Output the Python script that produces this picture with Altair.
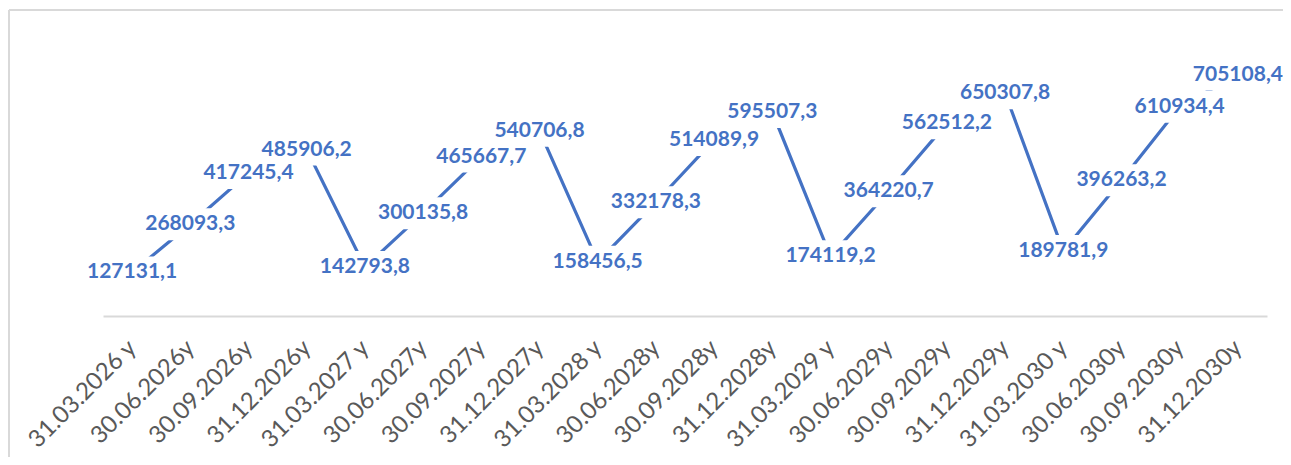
import altair as alt
import pandas as pd

dates = [
    "31.03.2026 y", "30.06.2026y", "30.09.2026y", "31.12.2026y",
    "31.03.2027 y", "30.06.2027y", "30.09.2027y", "31.12.2027y",
    "31.03.2028 y", "30.06.2028y", "30.09.2028y", "31.12.2028y",
    "31.03.2029 y", "30.06.2029y", "30.09.2029y", "31.12.2029y",
    "31.03.2030 y", "30.06.2030y", "30.09.2030y", "31.12.2030y",
]
values = [
    127131.1, 268093.3, 417245.4, 485906.2,
    142793.8, 300135.8, 465667.7, 540706.8,
    158456.5, 332178.3, 514089.9, 595507.3,
    174119.2, 364220.7, 562512.2, 650307.8,
    189781.9, 396263.2, 610934.4, 705108.4,
]

df = pd.DataFrame({
    "date": dates,
    "value": values,
    "label": [f"{v:.1f}".replace(".", ",") for v in values],
})

BLUE = "#4472C4"
PAD_L, PAD_T, PAD_R, PAD_B = 95, 34, 16, 141
W, H = 1164, 274

x = alt.X("date:N", sort=dates, title=None,
          scale=alt.Scale(paddingInner=0, paddingOuter=0),
          axis=alt.Axis(labelAngle=-45, labelAlign="right", labelBaseline="middle",
                        labelFont="Lato", labelFontSize=24, labelColor="#595959",
                        labelPadding=28, ticks=False, domainColor="#d9d9d9",
                        domainWidth=2, grid=False, labelOverlap=False))
y = alt.Y("value:Q", scale=alt.Scale(domain=[0, 800000]), axis=None)

base = alt.Chart(df).encode(x=x, y=y)

line = base.mark_line(color=BLUE, strokeWidth=3.2)
boxes = base.mark_point(
    shape="M-1,-0.32L1,-0.32L1,0.32L-1,0.32Z",
    size=10000, filled=True, fill="white", opacity=1, strokeWidth=0,
)
labels = base.mark_text(font="Lato", fontSize=21, fontWeight="bold",
                        color=BLUE).encode(text="label:N")

frame_top = alt.Chart(df).mark_rule(color="#d9d9d9", strokeWidth=1.5).encode(
    x=alt.value(-PAD_L + 1), x2=alt.value(W + PAD_R), y=alt.value(-PAD_T + 2))
frame_left = alt.Chart(df).mark_rule(color="#d9d9d9", strokeWidth=1.5).encode(
    x=alt.value(-PAD_L + 1), y=alt.value(-PAD_T + 2), y2=alt.value(H + PAD_B))

chart = alt.layer(frame_top, frame_left, line, boxes, labels).properties(
    width=W, height=H,
    autosize=alt.AutoSizeParams(type="none"),
    padding={"left": PAD_L, "top": PAD_T, "right": PAD_R, "bottom": PAD_B},
).configure_view(stroke=None)

chart.save("out.html", embed_options={"renderer": "svg", "actions": False})
